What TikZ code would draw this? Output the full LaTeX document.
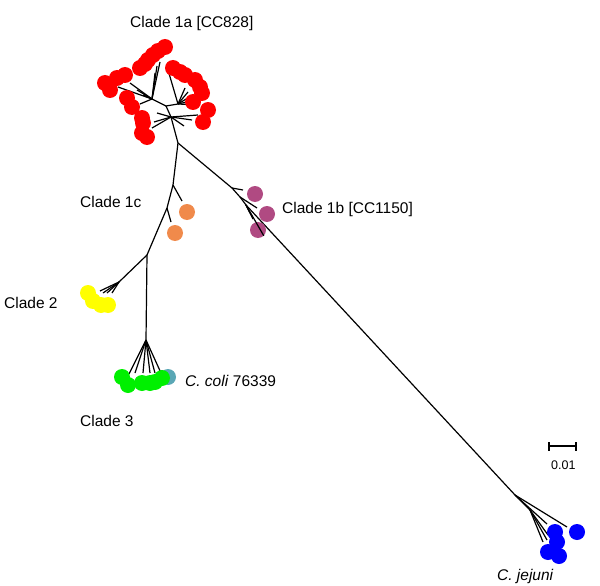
\documentclass[tikz,border=0pt]{standalone}
\usepackage{fontspec}
\setmainfont{Liberation Sans}
\usepackage{xcolor}
\definecolor{c1a}{RGB}{255,0,0}
\definecolor{c1b}{RGB}{176,74,130}
\definecolor{c1c}{RGB}{240,138,75}
\definecolor{c2}{RGB}{255,255,0}
\definecolor{c3}{RGB}{0,240,0}
\definecolor{coli}{RGB}{90,167,181}
\definecolor{jej}{RGB}{0,0,255}

\begin{document}
\begin{tikzpicture}[x=1pt, y=-1pt,
        br/.style={line width=1.2pt},
        dot/.style={circle, fill=#1, minimum size=16pt, inner sep=0pt},
        lab/.style={anchor=base west, inner sep=0pt, font=\fontsize{15.5}{18}\selectfont}]
        \useasboundingbox (0,0) rectangle (600,586);
        % inner points of the tree
        \coordinate (r0) at (178,143);
        \coordinate (h1) at (171,117);
        \coordinate (h2) at (166,106);
        \coordinate (h3) at (152,99);
        \coordinate (h4) at (178,104);
        \coordinate (p1) at (232,188);
        \coordinate (p2) at (240,197);
        \coordinate (p3) at (246,205);
        \coordinate (k1) at (173,185);
        \coordinate (k2) at (167,208);
        \coordinate (k3) at (147,255);
        \coordinate (k4) at (119,282);
        \coordinate (k5) at (146,340);
        \coordinate (q0) at (515,495);
        \coordinate (q1) at (530,510);
        % branches
        \draw [br] (r0) edge (h1) (h1) edge (h2) (h2) edge (h3) (h2) edge (h4);
        \draw [br] (r0) -- (p1) -- (p2) -- (p3) -- (q0);
        \draw [br] (r0) -- (k1) -- (k2) -- (k3) -- (k5);
        \draw [br] (k3) edge (k4) (q0) edge (q1);
        % twigs
        \foreach \x/\y [count=\i] in {118/87,130/83,137/90,143/95,140/104,160/62,157/66,155/73}
            {\coordinate (ta\i) at (\x,\y); \draw [br] (h3) -- (ta\i);}
        \foreach \x/\y [count=\i] in {157/113,154/122,152/128,192/120,198/115,184/126}
            {\coordinate (tb\i) at (\x,\y); \draw [br] (h1) -- (tb\i);}
        \foreach \x/\y [count=\i] in {185/88,188/92,191/96,195/100,200/105,168/70}
            {\coordinate (tc\i) at (\x,\y); \draw [br] (h4) -- (tc\i);}
        \coordinate (t1) at (243,190);
        \coordinate (t2) at (257,208);
        \coordinate (t3) at (253,219);
        \coordinate (t4) at (250,213);
        \coordinate (t5) at (182,201);
        \coordinate (t6) at (171,222);
        \draw [br] (p1) edge (t1) (p2) edge (t2) (p3) edge (t3) (p3) edge (t4);
        \draw [br] (k1) edge (t5) (k2) edge (t6);
        \foreach \x/\y [count=\i] in {100/291,103/293,107/293,112/293}
            {\coordinate (td\i) at (\x,\y); \draw [br] (k4) -- (td\i);}
        \foreach \x/\y [count=\i] in {129/374,135/373,143/373,150/373,155/373,161/373}
            {\coordinate (te\i) at (\x,\y); \draw [br] (k5) -- (te\i);}
        \coordinate (tf1) at (567,527);
        \coordinate (tf2) at (547,524);
        \draw [br] (q0) edge (tf1) (q0) edge (tf2);
        \foreach \x/\y [count=\i] in {543/542,547/540,548/535}
            {\coordinate (tg\i) at (\x,\y); \draw [br] (q1) -- (tg\i);}
        % dots
        \foreach \x/\y [count=\i] in {165/47,158/51,153/55,148/60,145/64,140/68,105/83,110/90,117/78,125/75,127/98,132/107,142/118,143/123,142/133,147/137,173/68,180/72,185/75,195/80,200/87,202/93,193/102,208/110,203/122}
            \node (a\i) at (\x,\y) [dot=c1a] {};
        \node (b1) at (255,194) [dot=c1b] {};
        \node (b2) at (267,214) [dot=c1b] {};
        \node (b3) at (258,230) [dot=c1b] {};
        \node (o1) at (187,212) [dot=c1c] {};
        \node (o2) at (175,233) [dot=c1c] {};
        \foreach \x/\y [count=\i] in {88/293,93/301,101/305,108/305}
            \node (y\i) at (\x,\y) [dot=c2] {};
        \node (cc) at (168,377) [dot=coli] {};
        \foreach \x/\y [count=\i] in {122/377,128/385,142/383,150/383,155/382,162/378}
            \node (g\i) at (\x,\y) [dot=c3] {};
        \foreach \x/\y [count=\i] in {555/532,577/532,557/542,548/552,559/556}
            \node (j\i) at (\x,\y) [dot=jej] {};
        \draw [br] (p3) -- (b3.south east);
        % scale bar
        \coordinate (s1) at (549,446);
        \coordinate (s2) at (576,446);
        \draw [line width=1.3pt] (s1) -- (s2);
        \draw [line width=1.3pt] ([yshift=-4.5pt]s1) -- ([yshift=4.5pt]s1);
        \draw [line width=1.3pt] ([yshift=-4.5pt]s2) -- ([yshift=4.5pt]s2);
        \node (sl) at (551,469) [anchor=base west, inner sep=0pt, font=\fontsize{12.5}{14}\selectfont] {0.01};
        % labels
        \node (l1a) at (130,28) [lab] {Clade 1a [CC828]};
        \node (l1b) at (282,213) [lab] {Clade 1b [CC1150]};
        \node (l1c) at (80,207) [lab] {Clade 1c};
        \node (l2) at (4,308) [lab] {Clade 2};
        \node (l3) at (80,426) [lab] {Clade 3};
        \node (lcc) at (185,386) [lab] {\textit{C. coli} 76339};
        \node (lcj) at (497,580) [lab] {\textit{C. jejuni}};
\end{tikzpicture}
\end{document}
